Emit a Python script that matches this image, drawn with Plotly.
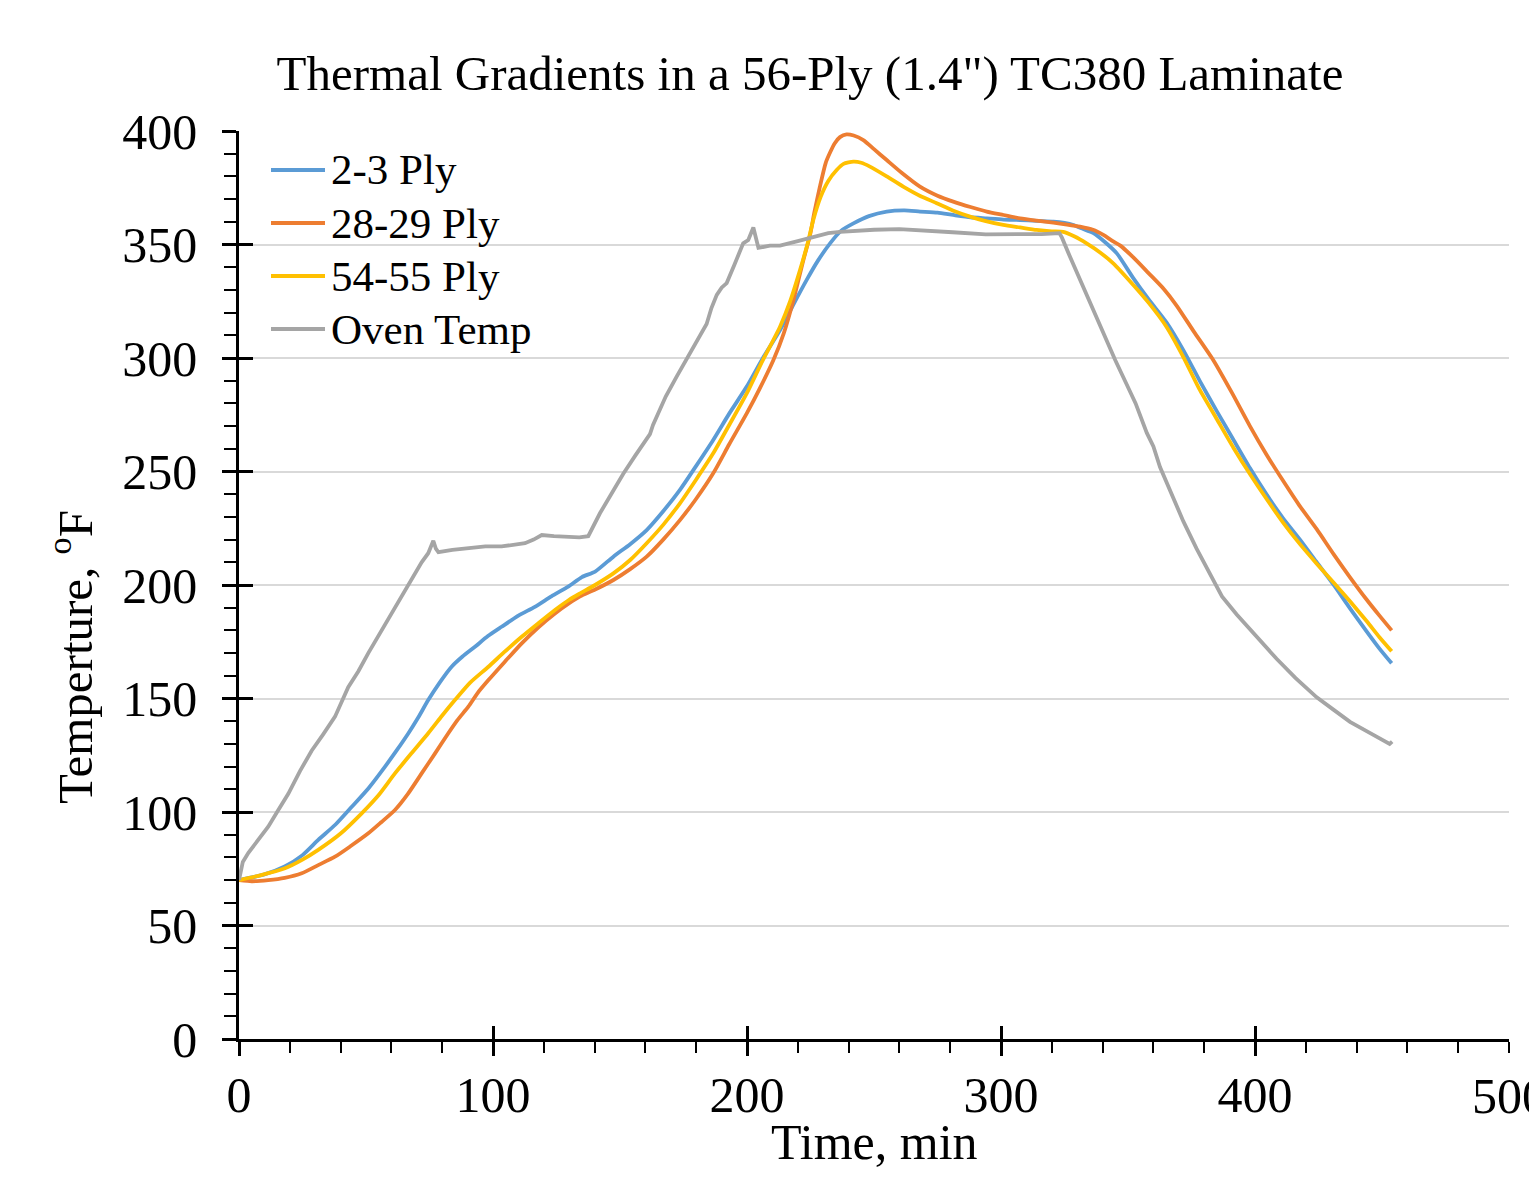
import plotly.graph_objects as go

# ── data ────────────────────────────────────────────────────────────────────
oven_t = [0, 1.5, 3.7, 7, 11.5, 15, 19.4, 24, 28.6, 33, 37.8, 43, 47, 50.9, 56.2, 60, 64, 68,
          71.9, 74.5, 76.5, 77.5, 78.5, 84, 90, 97, 103.4, 108, 112.6, 116, 119.2, 124,
          129.6, 134, 137.5, 140, 142.1, 146, 151.3, 156, 161.8, 163, 164, 168, 172.3, 175,
          177.6, 181, 184.1, 186, 188.1, 190, 192, 195, 198.5, 200.5, 202.5, 203.5, 204.5,
          209, 213, 220, 226, 232, 236.6, 242, 250, 260, 270, 281, 294, 307.5, 316, 323,
          324, 327, 332.4, 337, 341.6, 345, 349.5, 353, 357.4, 360, 362.6, 367, 371.8, 377,
          382.3, 387, 392.8, 400, 408.5, 416, 424.3, 431, 437.4, 445, 450, 453, 454]
oven_T = [70, 78, 82, 87, 93.5, 100, 108, 118, 127, 134, 142, 155, 162, 170, 180, 187, 195, 202,
          210, 214, 219.5, 216, 214.5, 215.5, 216.2, 217, 217, 217.5, 218.4, 220, 222, 221.5,
          221, 221, 221.5, 227, 231.6, 239, 249, 257, 266.5, 270.5, 273, 283, 291.8, 297,
          302, 309, 315, 322, 327.8, 331, 333, 341, 350.5, 352, 357.5, 353, 348.5,
          349.5, 349.5, 351.5, 353.3, 355, 355.6, 356, 356.5, 356.8, 356.3, 355.4, 354.5, 354.4, 354.6, 355,
          353, 345, 331, 320, 308, 299, 288.3, 280, 267, 261, 252, 240, 228, 216,
          205, 195, 187, 178, 167.5, 159, 150.5, 145, 139.7, 135, 132, 130, 131]

ply2_t = [0, 10, 18, 25, 31.2, 38, 44.4, 51, 57.5, 62, 66.7, 70.5, 74.5, 79, 83.7, 88, 92.9, 98,
          103.4, 110, 116.5, 123, 129.6, 135, 140.2, 147.4, 154, 160.5, 167, 173.6, 180, 186.7,
          193, 199.9, 206, 213, 218, 223.5, 228, 232.7, 237, 241.9, 248, 255, 262, 268.1, 275,
          281.2, 288, 294.4, 301, 307.5, 314, 320.6, 325, 328.5, 332, 336.4, 341, 345.6, 352,
          358, 365.2, 372, 378.3, 385, 391.5, 398, 404.6, 411, 417.7, 424, 431, 437.4, 444,
          449, 453.8]
ply2_T = [70, 72.5, 76, 81, 87.7, 94.5, 102.3, 110.5, 120, 127, 134.7, 141.5, 149.3, 157, 164,
          168.5, 172.8, 177.5, 181.6, 186.5, 190.4, 195, 199.3, 203.5, 205.9, 212.5, 218, 224.2,
          232.5, 241.9, 252.5, 263.9, 275.5, 287.4, 299.5, 312.3, 323, 334.4, 343, 350.5, 356,
          359.3, 362.5, 364.5, 365, 364.5, 364, 363, 362, 361.5, 361, 360.8, 360.4, 360.1,
          359.5, 358.6, 357, 355, 351, 346.1, 335.3, 326, 315.6, 303, 289.8, 276.5, 264,
          251.5, 239.8, 229.5, 220, 210.5, 200, 189.7, 179.5, 172, 165.5]

ply28_t = [0, 5, 11.5, 18, 24.7, 31, 37.8, 44, 50.9, 56, 61.4, 66.5, 71.9, 77, 82.4, 86, 90.3, 94,
           98.2, 104.5, 111.3, 118, 124.4, 130, 134.3, 140.2, 147.4, 154, 160.5, 167, 173.6,
           180, 186.7, 193, 199.9, 205, 210.4, 214.5, 218.3, 222.2, 224.8, 226.5, 228.7, 231,
           232.7, 234.5, 236.6, 239.2, 242, 245.8, 250, 255, 261, 268.1, 275, 281.2, 288, 294.4,
           301, 307.5, 314, 320.6, 326, 331.1, 336.2, 340.3, 344, 347, 352, 358, 364, 369.2,
           376, 383.6, 391, 398, 404.5, 411, 417.5, 424.3, 431, 437.4, 444, 449, 453.8]
ply28_T = [70, 69.5, 70, 71, 73, 76.5, 80.3, 85, 90.6, 95.5, 100.9, 108, 117, 125.5, 134.7, 140.5,
           146.4, 152.5, 158.1, 166, 174.3, 181.5, 187.5, 192, 195, 198, 202.2, 207, 212.5, 220,
           228.6, 238, 249.2, 262, 275.6, 286.5, 299.1, 311, 325.6, 343.2, 354, 364, 375.5, 386,
           390.5, 394.5, 397.3, 398.5, 398, 396, 392, 387.2, 381.5, 375.5, 371.5, 368.9, 366.5,
           364.5, 363, 361.5, 360.5, 359.6, 358.8, 357.9, 356.5, 354.2, 351.5, 349.5, 344.4,
           337.5, 330.5, 323, 311.5, 299, 284.5, 270, 257.5, 246, 235, 224.6, 213.5, 203.4,
           193.5, 186.5, 180]

ply54_t = [0, 8, 18.1, 25, 31.2, 40, 48.3, 55, 61.4, 68, 74.5, 80, 85, 91, 98.2, 104.5, 111.3,
           118, 124.4, 130, 134.3, 140.2, 147.4, 154, 160.5, 167, 173.6, 180, 186.7, 193, 199.9,
           206, 213, 217, 220.9, 224, 226.1, 229, 232, 235.3, 238, 241.9, 245, 248.4, 255,
           261.5, 268, 274.7, 281, 287.8, 294, 300.9, 307.5, 314, 320, 324.5, 329, 333.7, 339,
           344.2, 352, 358, 365, 371.8, 378, 385, 391.5, 398, 404.5, 411, 417.7, 424.3, 431,
           437.4, 444, 449, 453.8]
ply54_T = [70, 72, 75.2, 79, 83.3, 90.5, 99.4, 107.5, 117, 126, 134.7, 142.5, 149.3, 157, 164,
           170.5, 177.2, 183.3, 189, 193.5, 196.3, 200, 205.1, 211, 218.4, 226.5, 236, 246.5, 258,
           270.5, 284.4, 298.5, 313.8, 325, 338.8, 351, 360.8, 371, 378, 382.8, 385.5, 386.5,
           386, 384.3, 380, 375.5, 371.5, 368.2, 365, 362.3, 360.3, 358.6, 357.5, 356.4, 355.8,
           355.6, 353.5, 350.5, 346.5, 341.7, 332.3, 324.5, 314, 300.4, 286.5, 273, 260.5,
           248.9, 238, 227.6, 218, 209.4, 201, 192.8, 184, 177, 170.8]

SERIES = [
    ('2-3 Ply', ply2_t, ply2_T, '#5B9BD5', 'spline'),
    ('28-29 Ply', ply28_t, ply28_T, '#ED7D31', 'spline'),
    ('54-55 Ply', ply54_t, ply54_T, '#FFC000', 'spline'),
    ('Oven Temp', oven_t, oven_T, '#A5A5A5', 'linear'),
]

X_MAX = 500
FONT = 'Liberation Serif'
W, H = 1521, 1164          # page body adds an 8px margin all round
L, T_, PW, PH = 231, 123, 1270, 908

fig = go.Figure()
for name, t, T, color, shape in SERIES:
    fig.add_trace(go.Scatter(x=t, y=T, mode='lines', name=name, showlegend=False,
                             line=dict(color=color, width=3.8, shape=shape, smoothing=0.6)))

# empty trace so the overlay axes (inner half of the crossing ticks) get drawn
fig.add_trace(go.Scatter(x=[], y=[], xaxis='x2', yaxis='y2', showlegend=False,
                         hoverinfo='skip'))

# hand-built legend (Excel-style: long sample line, tight rows)
shapes, annotations = [], []
for i, (name, _, _, color, _) in enumerate(SERIES):
    yp = (908 - (39 + 53 * i)) / PH
    shapes.append(dict(type='line', xref='paper', yref='paper',
                       x0=32 / PW, x1=86 / PW, y0=yp, y1=yp,
                       line=dict(color=color, width=3.8)))
    annotations.append(dict(text=name, xref='paper', yref='paper', x=90 / PW, y=yp,
                            xanchor='left', yanchor='middle', showarrow=False,
                            font=dict(family=FONT, size=43, color='black')))

annotations += [
    # last x tick label sits past the page edge and is cut off, as in the source
    dict(text=str(X_MAX), xref='x', yref='paper', x=X_MAX, y=-57 / PH,
         xanchor='center', yanchor='middle', showarrow=False,
         font=dict(family=FONT, size=50, color='black')),
    dict(text='Time, min', xref='paper', yref='paper', x=0.5, y=-(1142 - 1039) / PH,
         xanchor='center', yanchor='middle', showarrow=False,
         font=dict(family=FONT, size=50, color='black')),
    dict(text='Temperture, <sup>o</sup>F', xref='paper', yref='paper',
         x=(71 - 239) / PW, y=(1039 - 657) / PH, textangle=-90,
         xanchor='center', yanchor='middle', showarrow=False,
         font=dict(family=FONT, size=49, color='black')),
]

fig.update_layout(
    width=W, height=H,
    margin=dict(l=L, r=W - L - PW, t=T_, b=H - T_ - PH, autoexpand=False),
    paper_bgcolor='white', plot_bgcolor='white',
    font=dict(family=FONT, color='black', size=50),
    title=dict(text='Thermal Gradients in a 56-Ply (1.4") TC380 Laminate',
               x=802 / W, xref='container', xanchor='center',
               y=1 - 65 / H, yref='container', yanchor='middle',
               font=dict(family=FONT, size=49, color='black')),
    showlegend=False,
    shapes=shapes,
    annotations=annotations,
    xaxis=dict(range=[0, X_MAX], tickvals=[0, 100, 200, 300, 400],
               showgrid=False, zeroline=False,
               showline=True, linecolor='black', linewidth=2.5,
               ticks='outside', ticklen=14, tickwidth=2.5, tickcolor='black',
               minor=dict(ticks='outside', dtick=20, tick0=0, ticklen=11, tickwidth=2,
                          tickcolor='black', showgrid=False),
               tickfont=dict(family=FONT, size=50), ticklabelstandoff=-4),
    yaxis=dict(range=[0, 400], dtick=50, tick0=0, showgrid=True,
               gridcolor='#D9D9D9', gridwidth=2, zeroline=False,
               showline=True, linecolor='black', linewidth=2.5,
               ticks='outside', ticklen=14, tickwidth=2.5, tickcolor='black',
               minor=dict(ticks='outside', dtick=10, ticklen=12, tickwidth=2,
                          tickcolor='black', showgrid=False),
               tickfont=dict(family=FONT, size=50), ticklabelstandoff=15),
    xaxis2=dict(overlaying='x', anchor='y2', range=[0, X_MAX], dtick=100, tick0=0,
                showgrid=False, zeroline=False, showline=False,
                ticks='inside', ticklen=13, tickwidth=2.5, tickcolor='black',
                showticklabels=False),
    yaxis2=dict(overlaying='y', anchor='x2', range=[0, 400], dtick=50, tick0=0,
                showgrid=False, zeroline=False, showline=False,
                ticks='inside', ticklen=14, tickwidth=2.5, tickcolor='black',
                showticklabels=False),
)

fig.write_html('out.html')
